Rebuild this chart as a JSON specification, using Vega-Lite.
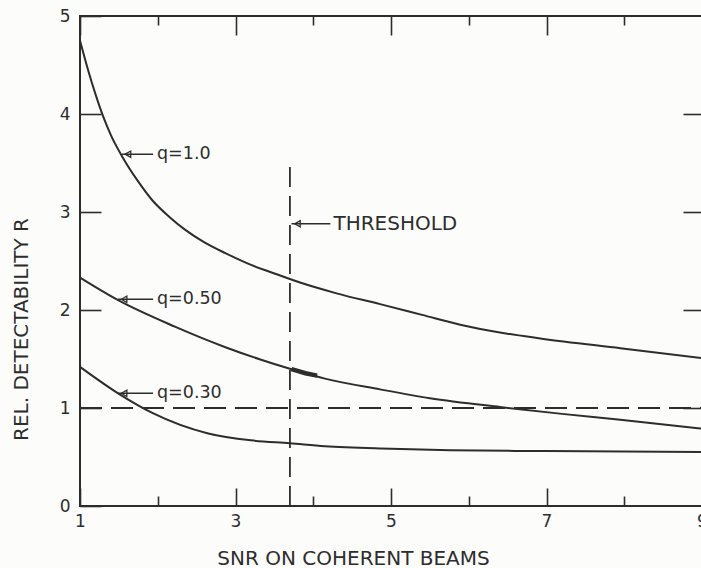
{
  "$schema": "https://vega.github.io/schema/vega-lite/v6.json",
  "width": 622,
  "height": 490,
  "autosize": {"type": "none"},
  "padding": {"left": 80, "top": 16, "right": 0, "bottom": 62},
  "background": "#fcfcfb",
  "config": {
    "view": {"stroke": "#2d2d2d", "strokeWidth": 2},
    "axis": {"grid": false, "domain": false, "tickColor": "#2d2d2d", "tickWidth": 1.6, "labelFont": "DejaVu Sans", "labelFontSize": 17, "labelColor": "#2d2d2d", "labelFlush": false, "titleFont": "DejaVu Sans", "titleFontSize": 20, "titleFontWeight": "normal", "titleColor": "#2d2d2d"},
    "text": {"font": "DejaVu Sans", "color": "#2d2d2d"}
  },
  "datasets": {
    "curves": [
      {"q": "1.0", "snr": 1.0, "r": 4.75},
      {"q": "1.0", "snr": 1.1, "r": 4.46},
      {"q": "1.0", "snr": 1.2, "r": 4.2},
      {"q": "1.0", "snr": 1.3, "r": 3.97},
      {"q": "1.0", "snr": 1.4, "r": 3.78},
      {"q": "1.0", "snr": 1.54, "r": 3.57},
      {"q": "1.0", "snr": 1.75, "r": 3.31},
      {"q": "1.0", "snr": 1.93, "r": 3.12},
      {"q": "1.0", "snr": 2.15, "r": 2.95},
      {"q": "1.0", "snr": 2.35, "r": 2.82},
      {"q": "1.0", "snr": 2.6, "r": 2.69},
      {"q": "1.0", "snr": 2.87, "r": 2.58},
      {"q": "1.0", "snr": 3.2, "r": 2.46},
      {"q": "1.0", "snr": 3.51, "r": 2.37},
      {"q": "1.0", "snr": 3.83, "r": 2.28},
      {"q": "1.0", "snr": 4.3, "r": 2.17},
      {"q": "1.0", "snr": 4.86, "r": 2.06},
      {"q": "1.0", "snr": 5.4, "r": 1.95},
      {"q": "1.0", "snr": 5.89, "r": 1.85},
      {"q": "1.0", "snr": 6.4, "r": 1.77},
      {"q": "1.0", "snr": 6.92, "r": 1.71},
      {"q": "1.0", "snr": 7.95, "r": 1.61},
      {"q": "1.0", "snr": 9.0, "r": 1.51},
      {"q": "0.50", "snr": 1.0, "r": 2.33},
      {"q": "0.50", "snr": 1.49, "r": 2.1},
      {"q": "0.50", "snr": 2.22, "r": 1.83},
      {"q": "0.50", "snr": 2.87, "r": 1.62},
      {"q": "0.50", "snr": 3.3, "r": 1.5},
      {"q": "0.50", "snr": 3.7, "r": 1.4},
      {"q": "0.50", "snr": 4.15, "r": 1.3},
      {"q": "0.50", "snr": 4.86, "r": 1.19},
      {"q": "0.50", "snr": 5.5, "r": 1.1},
      {"q": "0.50", "snr": 6.4, "r": 1.01},
      {"q": "0.50", "snr": 7.2, "r": 0.94},
      {"q": "0.50", "snr": 7.95, "r": 0.88},
      {"q": "0.50", "snr": 9.0, "r": 0.79},
      {"q": "0.30", "snr": 1.0, "r": 1.42},
      {"q": "0.30", "snr": 1.49, "r": 1.15},
      {"q": "0.30", "snr": 1.93, "r": 0.95},
      {"q": "0.30", "snr": 2.65, "r": 0.74},
      {"q": "0.30", "snr": 3.2, "r": 0.67},
      {"q": "0.30", "snr": 3.7, "r": 0.64},
      {"q": "0.30", "snr": 4.15, "r": 0.61},
      {"q": "0.30", "snr": 5.0, "r": 0.585},
      {"q": "0.30", "snr": 5.76, "r": 0.57},
      {"q": "0.30", "snr": 7.0, "r": 0.56},
      {"q": "0.30", "snr": 9.0, "r": 0.55}
    ],
    "labels": [
      {"kind": "q", "text": "q=1.0", "tip": 1.54, "end": 1.94, "tx": 1.99, "y": 3.59},
      {"kind": "q", "text": "q=0.50", "tip": 1.49, "end": 1.94, "tx": 1.99, "y": 2.11},
      {"kind": "q", "text": "q=0.30", "tip": 1.49, "end": 1.94, "tx": 1.99, "y": 1.15},
      {"kind": "t", "text": "THRESHOLD", "tip": 3.72, "end": 4.22, "tx": 4.26, "y": 2.88}
    ]
  },
  "layer": [
    {
      "data": {"name": "curves"},
      "mark": {"type": "line", "color": "#2d2d2d", "strokeWidth": 2, "interpolate": "monotone"},
      "encoding": {
        "x": {"field": "snr", "type": "quantitative", "scale": {"domain": [1, 9], "nice": false, "zero": false},
              "axis": {"orient": "bottom", "values": [1, 3, 5, 7, 9], "tickSize": -18, "labelPadding": 25, "title": "SNR ON COHERENT BEAMS", "titleX": 273, "titleY": 52, "titleBaseline": "middle", "titleAlign": "center"}},
        "y": {"field": "r", "type": "quantitative", "scale": {"domain": [0, 5], "nice": false},
              "axis": {"orient": "left", "values": [0, 1, 2, 3, 4, 5], "tickSize": -21, "labelPadding": 31, "title": "REL. DETECTABILITY R", "titleX": -59, "titleY": 313, "titleBaseline": "middle", "titleAlign": "center", "titleAngle": -90}},
        "detail": {"field": "q"}
      }
    },
    {
      "data": {"values": [{"snr": 3.72, "r": 1.397}, {"snr": 3.9, "r": 1.355}, {"snr": 4.05, "r": 1.33}]},
      "mark": {"type": "line", "color": "#2d2d2d", "strokeWidth": 4.5},
      "encoding": {
        "x": {"field": "snr", "type": "quantitative", "axis": null},
        "y": {"field": "r", "type": "quantitative", "axis": null}
      }
    },
    {
      "data": {"values": [{"x": 1, "x2": 9, "y": 1}]},
      "mark": {"type": "rule", "color": "#2d2d2d", "strokeWidth": 1.8, "strokeDash": [22, 9]},
      "encoding": {
        "x": {"field": "x", "type": "quantitative", "axis": null},
        "x2": {"field": "x2"},
        "y": {"field": "y", "type": "quantitative", "axis": null}
      }
    },
    {
      "data": {"values": [{"x": 3.7, "y": 0, "y2": 3.47}]},
      "mark": {"type": "rule", "color": "#2d2d2d", "strokeWidth": 1.8, "strokeDash": [20, 9]},
      "encoding": {
        "x": {"field": "x", "type": "quantitative", "axis": null},
        "y": {"field": "y", "type": "quantitative", "axis": null},
        "y2": {"field": "y2"}
      }
    },
    {
      "data": {"name": "labels"},
      "mark": {"type": "rule", "color": "#2d2d2d", "strokeWidth": 1.5},
      "encoding": {
        "x": {"field": "tip", "type": "quantitative", "axis": null},
        "x2": {"field": "end"},
        "y": {"field": "y", "type": "quantitative", "axis": null}
      }
    },
    {
      "data": {"name": "labels"},
      "mark": {"type": "point", "shape": "triangle-left", "filled": false, "size": 40, "strokeWidth": 1.3, "color": "#2d2d2d", "opacity": 1, "xOffset": 6},
      "encoding": {
        "x": {"field": "tip", "type": "quantitative", "axis": null},
        "y": {"field": "y", "type": "quantitative", "axis": null}
      }
    },
    {
      "data": {"name": "labels"},
      "transform": [{"filter": "datum.kind == 'q'"}],
      "mark": {"type": "text", "align": "left", "baseline": "middle", "fontSize": 17.5},
      "encoding": {
        "x": {"field": "tx", "type": "quantitative", "axis": null},
        "y": {"field": "y", "type": "quantitative", "axis": null},
        "text": {"field": "text"}
      }
    },
    {
      "data": {"name": "labels"},
      "transform": [{"filter": "datum.kind == 't'"}],
      "mark": {"type": "text", "align": "left", "baseline": "middle", "fontSize": 20},
      "encoding": {
        "x": {"field": "tx", "type": "quantitative", "axis": null},
        "y": {"field": "y", "type": "quantitative", "axis": null},
        "text": {"field": "text"}
      }
    },
    {
      "data": {"values": [{"x": 1, "y": 0}]},
      "mark": {"type": "point", "opacity": 0},
      "encoding": {
        "x": {"field": "x", "type": "quantitative", "axis": {"orient": "bottom", "values": [2, 4, 6, 8], "tickSize": -10, "labels": false, "title": null}},
        "y": {"field": "y", "type": "quantitative", "axis": {"orient": "right", "values": [1, 2, 3, 4], "tickSize": -19, "labels": false, "title": null}}
      }
    },
    {
      "data": {"values": [{"x": 1, "y": 0}]},
      "mark": {"type": "point", "opacity": 0},
      "encoding": {
        "x": {"field": "x", "type": "quantitative", "axis": {"orient": "top", "values": [1, 3, 5, 7, 9], "tickSize": -19, "labels": false, "title": null}},
        "y": {"field": "y", "type": "quantitative", "axis": null}
      }
    },
    {
      "data": {"values": [{"x": 1, "y": 0}]},
      "mark": {"type": "point", "opacity": 0},
      "encoding": {
        "x": {"field": "x", "type": "quantitative", "axis": {"orient": "top", "values": [2, 4, 6, 8], "tickSize": -9, "labels": false, "title": null}},
        "y": {"field": "y", "type": "quantitative", "axis": null}
      }
    }
  ],
  "resolve": {"axis": {"x": "independent", "y": "independent"}}
}
